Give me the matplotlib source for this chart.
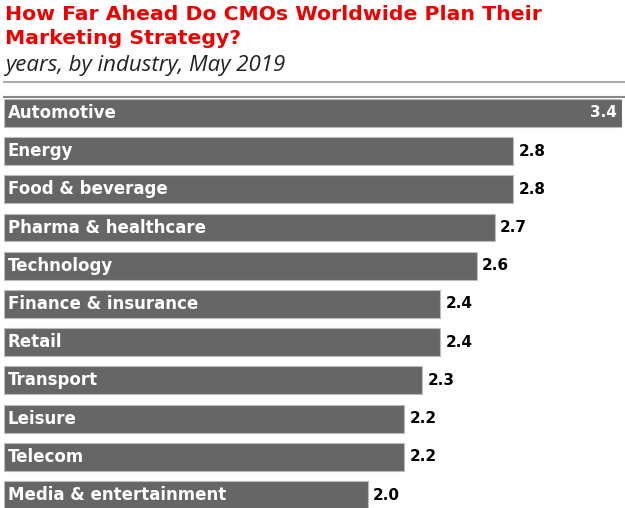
import matplotlib
matplotlib.use('Agg')
import matplotlib.pyplot as plt
from matplotlib.lines import Line2D

# ---------------------------------------------------------------------------
# Data
# ---------------------------------------------------------------------------
industries = ['Automotive', 'Energy', 'Food & beverage', 'Pharma & healthcare',
              'Technology', 'Finance & insurance', 'Retail', 'Transport',
              'Leisure', 'Telecom', 'Media & entertainment']
years_ahead = [3.4, 2.8, 2.8, 2.7, 2.6, 2.4, 2.4, 2.3, 2.2, 2.2, 2.0]

TITLE = 'How Far Ahead Do CMOs Worldwide Plan Their\nMarketing Strategy?'
SUBTITLE = 'years, by industry, May 2019'

BAR_COLOR = '#666666'
TITLE_COLOR = '#ee0000'
FONT = 'DejaVu Sans'

W, H = 625, 508
fig = plt.figure(figsize=(W / 100, H / 100), dpi=100)

# title block
fig.text(5 / W, 1 - 5 / H, TITLE, color=TITLE_COLOR, fontsize=14.7, fontweight='bold',
         family=FONT, ha='left', va='top', linespacing=1.3)
fig.text(5 / W, 1 - 66 / H, SUBTITLE, color='#222222', fontsize=16, style='italic',
         family='Open Sans', ha='left', va='center')
fig.add_artist(Line2D([4 / W, 1], [1 - 82 / H] * 2, color='#aaaaaa', linewidth=1.5))
fig.add_artist(Line2D([4 / W, 1], [1 - 97 / H] * 2, color='#888888', linewidth=1.5))

# bars
ax = fig.add_axes([4 / W, 0, 618 / W, 1 - 98 / H])
pos = list(range(len(industries)))
bars = ax.barh(pos, years_ahead, height=0.73, color=BAR_COLOR,
               edgecolor='#bbbbbb', linewidth=0.8)
ax.set_xlim(0, 3.4)
ax.set_ylim(10.34, -0.39)
ax.axis('off')

for i, (name, val) in enumerate(zip(industries, years_ahead)):
    ax.text(0.02, i, name, color='white', fontsize=12, fontweight='bold',
            family=FONT, ha='left', va='center')
    if val >= max(years_ahead):
        ax.text(val - 0.03, i, f'{val:.1f}', color='white', fontsize=11,
                fontweight='bold', family=FONT, ha='right', va='center')
    else:
        ax.text(val + 0.03, i, f'{val:.1f}', color='black', fontsize=11,
                fontweight='bold', family=FONT, ha='left', va='center')

plt.savefig('out.png', dpi=100)
